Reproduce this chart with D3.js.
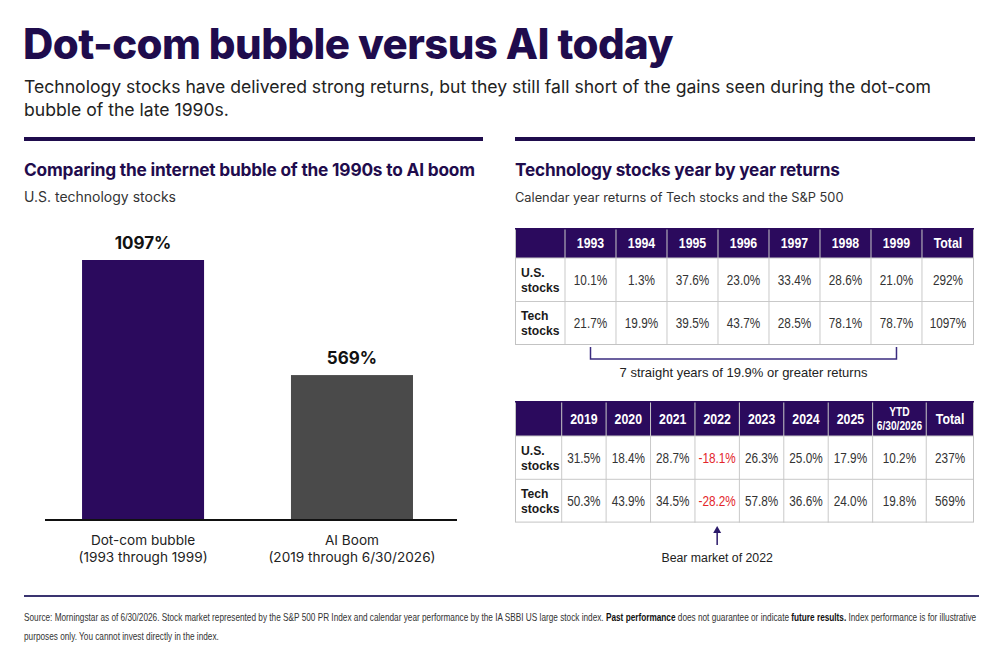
<!DOCTYPE html>
<html>
<head>
<meta charset="utf-8">
<script src="https://d3js.org/d3.v7.min.js"></script>
<style>
  body { margin: 0; background: #fff; }
  svg { display: block; }
</style>
</head>
<body>
<svg width="1000" height="664"></svg>
<script>
// ---- data ----
const barCategories = ["Dot-com bubble", "AI Boom"];
const barPeriods = ["(1993 through 1999)", "(2019 through 6/30/2026)"];
const barValues = [1097, 569];

const years90s = ["1993", "1994", "1995", "1996", "1997", "1998", "1999", "Total"];
const us90s = [10.1, 1.3, 37.6, 23.0, 33.4, 28.6, 21.0, 292];
const tech90s = [21.7, 19.9, 39.5, 43.7, 28.5, 78.1, 78.7, 1097];

const years20s = ["2019", "2020", "2021", "2022", "2023", "2024", "2025", "YTD|6/30/2026", "Total"];
const us20s = [31.5, 18.4, 28.7, -18.1, 26.3, 25.0, 17.9, 10.2, 237];
const tech20s = [50.3, 43.9, 34.5, -28.2, 57.8, 36.6, 24.0, 19.8, 569];

const rowLabels = [["U.S.", "stocks"], ["Tech", "stocks"]];

const navy = "#1f0c4d";
const purple = "#2b0a5d";
const svg = d3.select("svg");
const inter = "Inter, 'Noto Sans', sans-serif";
const arial = "'Liberation Sans', Arial, sans-serif";
const locale = d3.formatLocale({ decimal: ".", thousands: ",", grouping: [3], currency: ["$", ""], minus: "-" });

// narrow a text element horizontally (table font is condensed in the original)
function squeeze(sel, k) {
  sel.each(function () {
    const w = this.getComputedTextLength();
    d3.select(this).attr("textLength", w * k).attr("lengthAdjust", "spacingAndGlyphs");
  });
}

// ---- header ----
svg.append("text").attr("x", 23).attr("y", 59)
  .style("font-family", inter).style("font-weight", 800).style("font-size", "42px")
  .style("letter-spacing", "-0.6px").attr("fill", navy)
  .text("Dot-com bubble versus AI today");
svg.append("text").attr("x", 24).attr("y", 93)
  .style("font-family", inter).style("font-size", "17.6px").attr("fill", "#222")
  .text("Technology stocks have delivered strong returns, but they still fall short of the gains seen during the dot-com");
svg.append("text").attr("x", 24).attr("y", 116)
  .style("font-family", inter).style("font-size", "17.6px").attr("fill", "#222")
  .text("bubble of the late 1990s.");

svg.append("rect").attr("x", 24).attr("y", 137).attr("width", 459).attr("height", 4).attr("fill", navy);
svg.append("rect").attr("x", 515).attr("y", 137).attr("width", 460).attr("height", 4).attr("fill", navy);

// ---- left panel: bar chart ----
svg.append("text").attr("x", 24).attr("y", 176)
  .style("font-family", inter).style("font-weight", 700).style("font-size", "17.3px")
  .style("letter-spacing", "-0.2px").attr("fill", navy)
  .text("Comparing the internet bubble of the 1990s to AI boom");
svg.append("text").attr("x", 24).attr("y", 202)
  .style("font-family", inter).style("font-size", "14px").attr("fill", "#333")
  .text("U.S. technology stocks");

const baseY = 520;
const x = d3.scaleBand().domain(barCategories).range([45, 457])
  .paddingInner(0.416).paddingOuter(0.194).align(0.457);
const y = d3.scaleLinear().domain([-96, 1097]).range([baseY, 260]);
const barColor = d3.scaleOrdinal().domain(barCategories).range([purple, "#4a4a4a"]);

const bars = barCategories.map((c, i) => ({ cat: c, period: barPeriods[i], value: barValues[i] }));

svg.append("g").selectAll("rect").data(bars).enter().append("rect")
  .attr("x", d => x(d.cat))
  .attr("y", d => y(d.value))
  .attr("width", x.bandwidth())
  .attr("height", d => baseY - y(d.value))
  .attr("fill", d => barColor(d.cat));

svg.append("g").selectAll("text").data(bars).enter().append("text")
  .attr("x", d => x(d.cat) + x.bandwidth() / 2)
  .attr("y", d => y(d.value) - 11)
  .attr("text-anchor", "middle")
  .style("font-family", inter).style("font-weight", 700).style("font-size", "17px").attr("fill", "#111")
  .text(d => d.value + "%");

svg.append("line").attr("x1", 45).attr("x2", 457).attr("y1", baseY).attr("y2", baseY)
  .attr("stroke", "#111").attr("stroke-width", 2);

const catLab = svg.append("g").selectAll("text").data(bars).enter().append("text")
  .attr("text-anchor", "middle")
  .style("font-family", inter).style("font-size", "13.6px").attr("fill", "#222");
catLab.append("tspan").attr("x", d => x(d.cat) + x.bandwidth() / 2).attr("y", 545).text(d => d.cat);
catLab.append("tspan").attr("x", d => x(d.cat) + x.bandwidth() / 2).attr("y", 562).text(d => d.period);

// ---- right panel: tables ----
svg.append("text").attr("x", 515).attr("y", 176)
  .style("font-family", inter).style("font-weight", 700).style("font-size", "17.2px")
  .style("letter-spacing", "-0.2px").attr("fill", navy)
  .text("Technology stocks year by year returns");
svg.append("text").attr("x", 515).attr("y", 202)
  .style("font-family", inter).style("font-size", "12.8px").attr("fill", "#333")
  .text("Calendar year returns of Tech stocks and the S&P 500");

function fmt(v, col, cols) {
  return col === cols[cols.length - 1] ? locale.format("d")(v) + "%" : locale.format(".1f")(v) + "%";
}

// draws a table; weights give relative column widths
function drawTable(cols, rows, opts) {
  const g = svg.append("g");
  const edges = [opts.x0 + opts.labelW];
  const sum = d3.sum(opts.weights);
  const span = opts.x1 - edges[0];
  opts.weights.forEach((w, i) => edges.push(edges[i] + span * w / sum));
  const colX = d3.scaleOrdinal().domain(cols).range(edges.slice(0, -1));
  const colW = d3.scaleOrdinal().domain(cols).range(opts.weights.map(w => span * w / sum));
  const rowTop = [opts.y0, opts.y0 + opts.headH, opts.y0 + opts.headH + opts.rowH];
  const bottom = rowTop[2] + opts.rowH;

  g.append("rect").attr("x", opts.x0).attr("y", opts.y0)
    .attr("width", opts.x1 - opts.x0).attr("height", opts.headH).attr("fill", purple);

  // grid
  g.selectAll("line.v").data(edges.slice(0, -1)).enter().append("line")
    .attr("x1", d => d).attr("x2", d => d).attr("y1", opts.y0).attr("y2", bottom)
    .attr("stroke", "#c9c9c9").attr("stroke-width", 1);
  g.selectAll("line.h").data([rowTop[1], rowTop[2]]).enter().append("line")
    .attr("x1", opts.x0).attr("x2", opts.x1).attr("y1", d => d).attr("y2", d => d)
    .attr("stroke", "#c9c9c9").attr("stroke-width", 1);
  g.append("rect").attr("x", opts.x0 + 0.5).attr("y", opts.y0 + 0.5)
    .attr("width", opts.x1 - opts.x0 - 1).attr("height", bottom - opts.y0 - 1)
    .attr("fill", "none").attr("stroke", "#c3c3c3");
  g.append("rect").attr("x", opts.x0).attr("y", opts.y0)
    .attr("width", opts.x1 - opts.x0).attr("height", 1.5).attr("fill", purple);

  // header labels
  const hc = opts.y0 + opts.headH / 2;
  cols.forEach(c => {
    const parts = c.split("|");
    const cx = colX(c) + colW(c) / 2;
    if (parts.length === 1) {
      const s = g.append("text").attr("text-anchor", "middle")
        .style("font-family", arial).style("font-weight", 700).attr("fill", "#fff")
        .attr("x", cx).attr("y", hc + 5).style("font-size", "14px").text(c);
      squeeze(s, 0.88);
    } else {
      parts.forEach((p, j) => {
        const s = g.append("text").attr("text-anchor", "middle")
          .style("font-family", arial).style("font-weight", 700).attr("fill", "#fff")
          .style("font-size", "12.3px").attr("x", cx).attr("y", hc - 2.5 + j * 14).text(p);
        squeeze(s, 0.83);
      });
    }
  });

  rows.forEach((vals, r) => {
    const cy = rowTop[r + 1] + opts.rowH / 2;
    rowLabels[r].forEach((l, j) => {
      const s = g.append("text").style("font-family", arial).style("font-weight", 700)
        .style("font-size", "13.5px").attr("fill", "#1a1a1a")
        .attr("x", opts.x0 + 6).attr("y", cy - 3 + j * 15).text(l);
      squeeze(s, 0.9);
    });
    const vt = g.selectAll(null).data(vals).enter().append("text")
      .attr("x", (d, i) => colX(cols[i]) + colW(cols[i]) / 2)
      .attr("y", cy + 5)
      .attr("text-anchor", "middle")
      .style("font-family", arial).style("font-size", "14px")
      .attr("fill", d => d < 0 ? "#e3262b" : "#333")
      .text((d, i) => fmt(d, cols[i], cols));
    squeeze(vt, 0.84);
  });
  return { colX, colW, bottom };
}

const t1 = drawTable(years90s, [us90s, tech90s], {
  x0: 515, x1: 974, labelW: 50, y0: 228, headH: 30, rowH: 43.5,
  weights: [1, 1, 1, 1, 1, 1, 1, 1.02]
});

// bracket under 1993..1999
const bx1 = t1.colX("1993") + t1.colW("1993") / 2;
const bx2 = t1.colX("1999") + t1.colW("1999") / 2;
svg.append("path")
  .attr("d", `M${bx1},${t1.bottom + 2}V359H${bx2}V${t1.bottom + 2}`)
  .attr("fill", "none").attr("stroke", "#3b2c80").attr("stroke-width", 1.5);
svg.append("text").attr("x", (bx1 + bx2) / 2).attr("y", 377).attr("text-anchor", "middle")
  .style("font-family", arial).style("font-size", "13px").attr("fill", "#222")
  .text("7 straight years of 19.9% or greater returns");

const t2 = drawTable(years20s, [us20s, tech20s], {
  x0: 515, x1: 974, labelW: 46.7, y0: 401, headH: 35, rowH: 43.3,
  weights: [1, 1, 1, 1, 1, 1, 1, 1.207, 1.075]
});

// arrow to 2022
const ax = t2.colX("2022") + t2.colW("2022") / 2;
svg.append("line").attr("x1", ax).attr("x2", ax).attr("y1", 531).attr("y2", 545)
  .attr("stroke", "#2b1a6a").attr("stroke-width", 1.5);
svg.append("path").attr("d", `M${ax - 4},${533}L${ax},${526}L${ax + 4},${533}Z`).attr("fill", "#2b1a6a");
svg.append("text").attr("x", ax).attr("y", 562).attr("text-anchor", "middle")
  .style("font-family", arial).style("font-size", "12.3px").attr("fill", "#222")
  .text("Bear market of 2022");

// ---- footer ----
svg.append("rect").attr("x", 24).attr("y", 595).attr("width", 955).attr("height", 2).attr("fill", "#3a3470");

const foot = svg.append("g").attr("transform", "translate(24,0)");
const f1 = foot.append("text").attr("x", 0).attr("y", 621)
  .style("font-family", arial).style("font-size", "10.4px").attr("fill", "#333");
f1.append("tspan").text("Source: Morningstar as of 6/30/2026. Stock market represented by the S&P 500 PR Index and calendar year performance by the IA SBBI US large stock index. ");
f1.append("tspan").style("font-weight", 700).attr("fill", "#111").text("Past performance");
f1.append("tspan").text(" does not guarantee or indicate ");
f1.append("tspan").style("font-weight", 700).attr("fill", "#111").text("future results.");
f1.append("tspan").text(" Index performance is for illustrative");
foot.append("text").attr("x", 0).attr("y", 640)
  .style("font-family", arial).style("font-size", "10.4px").attr("fill", "#333")
  .text("purposes only. You cannot invest directly in the index.");
const w1 = f1.node().getComputedTextLength();
foot.attr("transform", `translate(24,0) scale(${952 / w1},1)`);
</script>
</body>
</html>
